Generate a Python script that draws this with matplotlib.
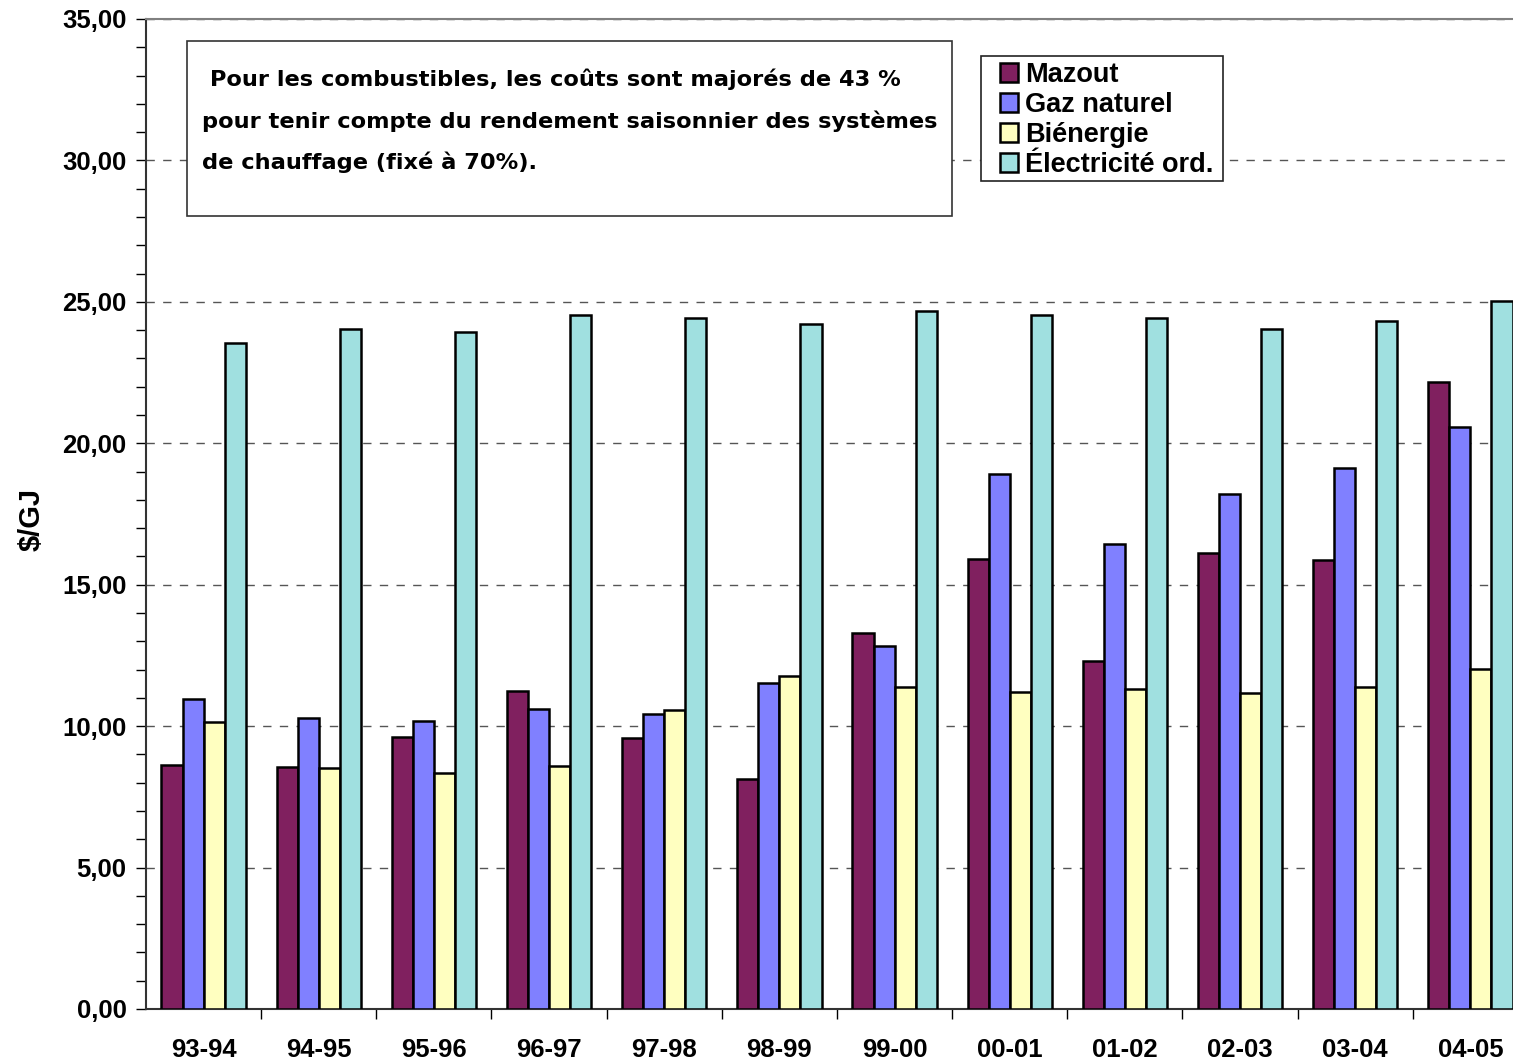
import matplotlib
matplotlib.use("Agg")
import matplotlib.pyplot as plt
from matplotlib.ticker import MultipleLocator, FuncFormatter
import numpy as np

categories = ["93-94", "94-95", "95-96", "96-97", "97-98", "98-99",
              "99-00", "00-01", "01-02", "02-03", "03-04", "04-05"]
mazout = [8.62, 8.55, 9.61, 11.23, 9.57, 8.12, 13.28, 15.90, 12.29, 16.11, 15.86, 22.18]
gaz = [10.95, 10.28, 10.17, 10.60, 10.42, 11.52, 12.82, 18.93, 16.43, 18.19, 19.11, 20.56]
bienergie = [10.14, 8.51, 8.34, 8.58, 10.56, 11.76, 11.37, 11.20, 11.30, 11.16, 11.37, 12.01]
electricite = [23.56, 24.05, 23.95, 24.55, 24.44, 24.23, 24.66, 24.55, 24.44, 24.05, 24.34, 25.04]
series_names = ["Mazout", "Gaz naturel", "Biénergie", "Électricité ord."]
colors = ["#80205F", "#8080FF", "#FFFFC0", "#A0E0E0"]

plt.rcParams['font.family'] = ['Liberation Sans', 'DejaVu Sans']

fig = plt.figure(figsize=(15.13, 10.64), dpi=100)
W, H = 1513, 1064
left, right, top, bottom = 146, 1528, 19, 1009
ax = fig.add_axes([left / W, 1 - bottom / H, (right - left) / W, (bottom - top) / H])

x = np.arange(len(categories))
bw = 0.183
data = [mazout, gaz, bienergie, electricite]
for i, (vals, c, n) in enumerate(zip(data, colors, series_names)):
    ax.bar(x + (i - 1.5) * bw, vals, bw, color=c, edgecolor="black", linewidth=1.8,
           label=n, zorder=3)

ax.set_xlim(-0.5, len(categories) - 0.5)
ax.set_ylim(0, 35)
ax.yaxis.set_major_locator(MultipleLocator(5))
ax.yaxis.set_minor_locator(MultipleLocator(1))
ax.yaxis.set_major_formatter(FuncFormatter(lambda v, p: f"{v:.2f}".replace(".", ",")))
ax.set_xticks(x)
ax.set_xticklabels(categories, fontsize=18.5, fontweight="bold")
ax.set_xticks(np.arange(len(categories)) + 0.5, minor=True)
ax.tick_params(axis="x", which="major", length=0, pad=21)
ax.tick_params(axis="x", which="minor", length=7, width=1, color="black")
ax.tick_params(axis="y", which="major", length=7, width=1, labelsize=18.5, pad=7)
ax.tick_params(axis="y", which="minor", length=7, width=1)
for lab in ax.get_yticklabels():
    lab.set_fontweight("bold")

ax.grid(axis="y", which="major", linestyle=(0, (6, 6)), color="#555555", linewidth=1, zorder=0)
for s in ["left", "bottom"]:
    ax.spines[s].set_color("#333333")
    ax.spines[s].set_linewidth(1.5)
ax.spines["top"].set_color("#808080")
ax.spines["top"].set_linewidth(1.5)
ax.spines["right"].set_visible(False)

ax.set_ylabel("\\$/GJ", fontsize=21, fontweight="bold")
ax.yaxis.set_label_coords((46 - left) / (right - left), 1 - (519 - top) / (bottom - top))

# annotation box
bx0, by0, bx1, by1 = 187, 41, 952, 216
fig.patches.append(plt.Rectangle((bx0 / W, 1 - by1 / H), (bx1 - bx0) / W, (by1 - by0) / H,
                                 transform=fig.transFigure, facecolor="white",
                                 edgecolor="#333333", linewidth=1.2, zorder=5))
txt = (" Pour les combustibles, les coûts sont majorés de 43 %\n"
       "pour tenir compte du rendement saisonnier des systèmes\n"
       "de chauffage (fixé à 70%).")
fig.text(202 / W, 1 - 69 / H, txt, fontsize=16.2, fontweight="bold", va="top", ha="left",
         family=["DejaVu Sans"], linespacing=2.13, zorder=6)

# legend frame
lx0, ly0, lx1, ly1 = 981, 56, 1223, 181
fig.patches.append(plt.Rectangle((lx0 / W, 1 - ly1 / H), (lx1 - lx0) / W, (ly1 - ly0) / H,
                                 transform=fig.transFigure, facecolor="white",
                                 edgecolor="#222222", linewidth=1.2, zorder=5))
leg = fig.legend(*ax.get_legend_handles_labels(), loc="upper left",
                 bbox_to_anchor=(1000 / W, 1 - 62 / H), bbox_transform=fig.transFigure,
                 fontsize=19.5, frameon=False,
                 handlelength=0.68, handleheight=0.68, handletextpad=0.25, labelspacing=0.15,
                 borderpad=0.0, borderaxespad=0)
for t in leg.get_texts():
    t.set_fontweight("bold")
leg.set_zorder(6)

fig.savefig("out.png", dpi=100)
